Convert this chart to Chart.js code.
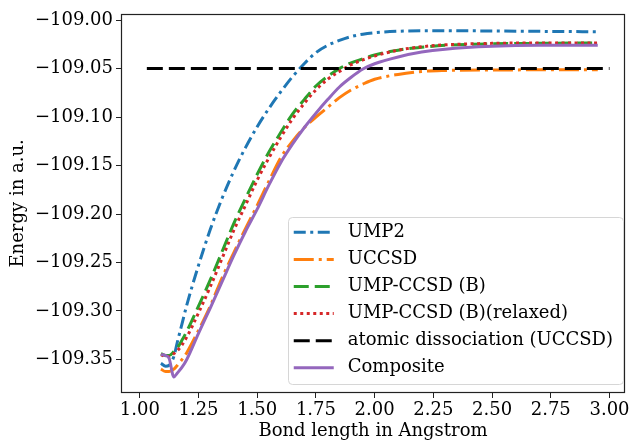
<!DOCTYPE html>
<html>
<head>
<meta charset="utf-8">
<script src="https://cdn.jsdelivr.net/npm/chart.js@4.4.1/dist/chart.umd.min.js"></script>
<style>
  html, body { margin: 0; padding: 0; background: #fff; }
  #wrap { width: 632px; height: 441px; }
</style>
</head>
<body>
<div id="wrap"><canvas id="pesChart" width="632" height="441"></canvas></div>
<script>
// bond lengths (Angstrom) shared by every curve
var bondLength = [1.09, 1.11, 1.125, 1.145, 1.16, 1.18, 1.2, 1.25, 1.3, 1.35, 1.4, 1.45, 1.5, 1.55, 1.6,
                  1.65, 1.7, 1.75, 1.8, 1.85, 1.9, 1.95, 2.0, 2.1, 2.2, 2.3, 2.5, 2.7, 2.95];

// energies in a.u.
var ump2 = [-109.354, -109.357, -109.356, -109.347, -109.332, -109.313, -109.294, -109.253, -109.216, -109.184,
            -109.156, -109.1315, -109.110, -109.091, -109.074, -109.0585, -109.045, -109.0335, -109.026, -109.021,
            -109.017, -109.0145, -109.013, -109.0115, -109.011, -109.011, -109.0112, -109.0116, -109.012];
var uccsd = [-109.360, -109.3625, -109.3625, -109.360, -109.356, -109.350, -109.343, -109.320, -109.295, -109.266,
             -109.240, -109.215, -109.191, -109.166, -109.142, -109.125, -109.111, -109.100, -109.090, -109.080,
             -109.072, -109.066, -109.061, -109.056, -109.053, -109.052, -109.0515, -109.0513, -109.0513];
var umpCcsdB = [-109.344, -109.346, -109.346, -109.342, -109.338, -109.330, -109.321, -109.295, -109.268, -109.239,
                -109.210, -109.184, -109.159, -109.136, -109.116, -109.097, -109.082, -109.068, -109.058, -109.050,
                -109.044, -109.040, -109.036, -109.031, -109.028, -109.026, -109.0245, -109.024, -109.0235];
var umpCcsdBRelaxed = [-109.345, -109.347, -109.347, -109.344, -109.341, -109.335, -109.327, -109.302, -109.275, -109.246,
                       -109.217, -109.191, -109.165, -109.142, -109.121, -109.102, -109.086, -109.072, -109.061, -109.053,
                       -109.046, -109.041, -109.037, -109.031, -109.0275, -109.0255, -109.024, -109.0235, -109.0235];
var composite = [-109.345, -109.346, -109.349, -109.368, -109.364, -109.358, -109.350, -109.323, -109.297, -109.270,
                 -109.243, -109.218, -109.195, -109.170, -109.147, -109.128, -109.111, -109.096, -109.082, -109.069,
                 -109.059, -109.0505, -109.045, -109.038, -109.033, -109.030, -109.027, -109.026, -109.026];

// atomic dissociation limit (UCCSD), drawn across this bond range
var dissociationEnergy = -109.05;
var dissociationRange = [1.03, 3.0];

var xTicks = [1.00, 1.25, 1.50, 1.75, 2.00, 2.25, 2.50, 2.75, 3.00];

function pts(ys) {
    return bondLength.map(function (x, i) { return { x: x, y: ys[i] }; });
}

Chart.defaults.font.family = '"DejaVu Serif", serif';
Chart.defaults.font.size = 18;
Chart.defaults.color = '#000';

// matplotlib-style legend box inside the axes, lower right
var legendBox = {
    id: 'legendBox',
    afterDraw: function (chart) {
        var ctx = chart.ctx, area = chart.chartArea;
        var items = chart.data.datasets;
        ctx.save();
        ctx.font = '18px "DejaVu Serif"';
        var textW = Math.max.apply(null, items.map(function (d) { return ctx.measureText(d.label).width; }));
        var rowH = 27.08;
        var right = area.right - 2, bottom = area.bottom - 9;
        var w = 60 + textW + 10, h = rowH * items.length + 4.5;
        var left = right - w, top = bottom - h;

        ctx.beginPath();
        ctx.roundRect(Math.round(left) + 0.5, Math.round(top) + 0.5, Math.round(w), Math.round(h), 4);
        ctx.fillStyle = 'rgba(255,255,255,0.8)';
        ctx.fill();
        ctx.strokeStyle = '#d6d6d6';
        ctx.lineWidth = 1;
        ctx.stroke();

        items.forEach(function (d, i) {
            var y = top + 15.3 + i * rowH;
            ctx.beginPath();
            ctx.setLineDash(d.borderDash || []);
            ctx.lineDashOffset = 0;
            ctx.strokeStyle = d.borderColor;
            ctx.lineWidth = d.borderWidth;
            ctx.moveTo(left + 6, y);
            ctx.lineTo(left + 46, y);
            ctx.stroke();
            ctx.setLineDash([]);
            ctx.fillStyle = '#000';
            ctx.textBaseline = 'middle';
            ctx.textAlign = 'left';
            ctx.fillText(d.label, left + 60, y);
        });
        ctx.restore();
    }
};

// box frame around the plot area
var frame = {
    id: 'frame',
    afterDatasetsDraw: function (chart) {
        var ctx = chart.ctx, a = chart.chartArea;
        ctx.save();
        ctx.strokeStyle = '#222';
        ctx.lineWidth = 1.2;
        ctx.strokeRect(Math.round(a.left) + 0.5, Math.round(a.top) + 0.5,
                       Math.round(a.right - a.left) - 1, Math.round(a.bottom - a.top) - 1);
        ctx.restore();
    }
};

var ctx = document.getElementById('pesChart').getContext('2d');
var pesChart = new Chart(ctx, {
    type: 'line',
    data: {
        datasets: [{
            label: 'UMP2',
            data: pts(ump2),
            borderColor: '#1f77b4',
            borderWidth: 3,
            borderDash: [12, 4.5, 3, 4.5],
            order: 6
        }, {
            label: 'UCCSD',
            data: pts(uccsd),
            borderColor: '#ff7f0e',
            borderWidth: 3,
            borderDash: [20, 5, 3, 5],
            order: 5
        }, {
            label: 'UMP-CCSD (B)',
            data: pts(umpCcsdB),
            borderColor: '#2ca02c',
            borderWidth: 3,
            borderDash: [15, 6],
            order: 4
        }, {
            label: 'UMP-CCSD (B)(relaxed)',
            data: pts(umpCcsdBRelaxed),
            borderColor: '#d62728',
            borderWidth: 3,
            borderDash: [3, 3.5],
            order: 3
        }, {
            label: 'atomic dissociation (UCCSD)',
            data: dissociationRange.map(function (x) { return { x: x, y: dissociationEnergy }; }),
            borderColor: '#000',
            borderWidth: 3,
            borderDash: [16, 6],
            order: 2
        }, {
            label: 'Composite',
            data: pts(composite),
            borderColor: '#9467bd',
            borderWidth: 3,
            borderDash: [],
            order: 1
        }]
    },
    options: {
        responsive: false,
        animation: false,
        devicePixelRatio: 1,
        layout: { padding: { top: 12, right: 7, bottom: 0, left: 0 } },
        elements: {
            point: { radius: 0 },
            line: { fill: false, cubicInterpolationMode: 'monotone', borderCapStyle: 'butt' }
        },
        plugins: {
            legend: { display: false },
            tooltip: { enabled: false }
        },
        scales: {
            x: {
                type: 'linear',
                min: 0.92,
                max: 3.066,
                afterFit: function (s) { s.height = 48; },
                afterBuildTicks: function (s) {
                    s.ticks = xTicks.map(function (v) { return { value: v }; });
                },
                ticks: {
                    autoSkip: false,
                    maxRotation: 0,
                    padding: 2,
                    callback: function (v) { return Number(v).toFixed(2); }
                },
                grid: { drawOnChartArea: false, drawTicks: true, tickLength: 5, tickColor: '#222' },
                border: { display: false },
                title: { display: true, text: 'Bond length in Angstrom', padding: { top: 0, bottom: -1 } }
            },
            y: {
                min: -109.3846,
                max: -108.9935,
                afterFit: function (s) { s.width = 121; },
                ticks: {
                    stepSize: 0.05,
                    includeBounds: false,
                    padding: 3,
                    callback: function (v) { return '\u2212' + Math.abs(v).toFixed(2); }
                },
                grid: { drawOnChartArea: false, drawTicks: true, tickLength: 5, tickColor: '#222' },
                border: { display: false },
                title: { display: true, text: 'Energy in a.u.', padding: { top: 8, bottom: 0 } }
            }
        }
    },
    plugins: [frame, legendBox]
});
</script>
</body>
</html>
